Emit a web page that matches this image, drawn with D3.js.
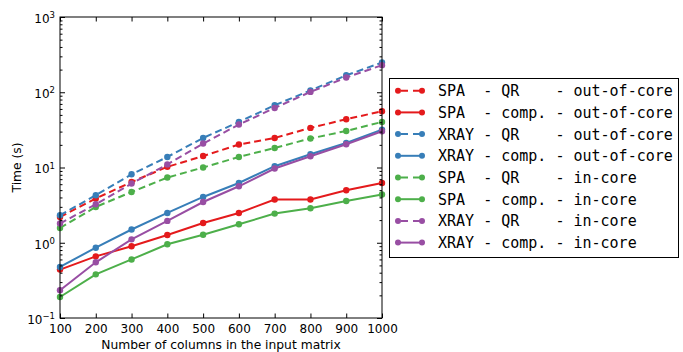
<!DOCTYPE html>
<html>
<head>
<meta charset="utf-8">
<script src="https://cdn.jsdelivr.net/npm/d3@7/dist/d3.min.js"></script>
<style>
  html, body { margin: 0; padding: 0; background: #fff; }
  svg { display: block; }
</style>
</head>
<body>
<svg id="chart" width="683" height="352"></svg>
<script>
// ---- Data ----
const columns = [100, 200, 300, 400, 500, 600, 700, 800, 900, 1000];
const spaQrOut    = [2.2, 3.87, 6.42, 10.2, 14.2, 20.2, 24.7, 33.6, 43.8, 56];
const spaCompOut  = [0.44, 0.66, 0.90, 1.27, 1.83, 2.49, 3.75, 3.75, 4.99, 6.23];
const xrayQrOut   = [2.32, 4.28, 8.13, 13.8, 24.7, 40.3, 67.2, 106, 168, 248];
const xrayCompOut = [0.477, 0.86, 1.50, 2.49, 4.06, 6.23, 10.4, 15.0, 21.2, 31.9];
const spaQrIn     = [1.57, 2.99, 4.73, 7.35, 10.0, 13.8, 18.2, 24.3, 30.6, 40.3];
const spaCompIn   = [0.19, 0.38, 0.60, 0.955, 1.28, 1.76, 2.44, 2.87, 3.59, 4.37];
const xrayQrIn    = [1.8, 3.25, 6.12, 11.0, 20.8, 37.2, 61.8, 101, 157, 229];
const xrayCompIn  = [0.234, 0.55, 1.11, 1.95, 3.48, 5.63, 9.7, 14.1, 20.4, 30.3];

const seriesLabels = [
  "SPA  - QR    - out-of-core",
  "SPA  - comp. - out-of-core",
  "XRAY - QR    - out-of-core",
  "XRAY - comp. - out-of-core",
  "SPA  - QR    - in-core",
  "SPA  - comp. - in-core",
  "XRAY - QR    - in-core",
  "XRAY - comp. - in-core"
];
const seriesValues = [spaQrOut, spaCompOut, xrayQrOut, xrayCompOut, spaQrIn, spaCompIn, xrayQrIn, xrayCompIn];
const seriesColors = ["#e41a1c", "#e41a1c", "#377eb8", "#377eb8", "#4daf4a", "#4daf4a", "#984ea3", "#984ea3"];
const seriesDashed = [true, false, true, false, true, false, true, false];

const yMajorTicks = [0.1, 1, 10, 100, 1000];
const yExponents = ["\u22121", "0", "1", "2", "3"];
const xLabel = "Number of columns in the input matrix";
const yLabel = "Time (s)";

// ---- Layout ----
const svg = d3.select("#chart");
const L = 60, R = 382, T = 17, B = 318;
const x = d3.scaleLinear().domain([100, 1000]).range([L, R]);
const y = d3.scaleLog().domain([0.1, 1000]).range([B, T]);

const series = seriesLabels.map((label, i) => ({
  label, color: seriesColors[i], dashed: seriesDashed[i],
  points: columns.map((c, j) => ({ c, v: seriesValues[i][j] }))
}));

const dash = "7,4";
const plot = svg.append("g");
const line = d3.line().x(d => x(d.c)).y(d => y(d.v));

series.forEach(s => {
  const g = plot.append("g");
  g.append("path").datum(s.points)
    .attr("d", line).attr("fill", "none")
    .attr("stroke", s.color).attr("stroke-width", 2)
    .attr("stroke-dasharray", s.dashed ? dash : null);
  g.selectAll("circle").data(s.points).join("circle")
    .attr("cx", d => x(d.c)).attr("cy", d => y(d.v)).attr("r", 3.2)
    .attr("fill", s.color);
});

// ---- Axes ----
const minorTicks = [];
for (let e = -1; e < 3; e++) for (let k = 2; k <= 9; k++) minorTicks.push(k * Math.pow(10, e));

const fontFam = "'DejaVu Sans', sans-serif";
function styleAxis(g) {
  g.select(".domain").remove();
  g.selectAll(".tick line").attr("stroke", "#000").attr("stroke-width", 1);
}

// bottom
const gx = svg.append("g").attr("transform", `translate(0,${B})`)
  .call(d3.axisBottom(x).tickValues(columns).tickSizeInner(-4.5).tickSizeOuter(0).tickPadding(6).tickFormat(d3.format("d")));
styleAxis(gx);
gx.selectAll(".tick text").attr("font-family", fontFam).attr("font-size", "12px").attr("fill", "#000");

// top
const gxt = svg.append("g").attr("transform", `translate(0,${T})`)
  .call(d3.axisTop(x).tickValues(columns).tickSizeInner(-4.5).tickSizeOuter(0).tickFormat(""));
styleAxis(gxt);

// left major
const gy = svg.append("g").attr("transform", `translate(${L},0)`)
  .call(d3.axisLeft(y).tickValues(yMajorTicks).tickSizeInner(-5).tickSizeOuter(0).tickPadding(6).tickFormat(""));
styleAxis(gy);
gy.selectAll(".tick").each(function(d, i) {
  const t = d3.select(this).append("text")
    .attr("x", -5).attr("y", 0).attr("dy", "0.45em")
    .attr("text-anchor", "end").attr("font-family", fontFam)
    .attr("font-size", "12px").attr("fill", "#000");
  t.append("tspan").text("10");
  t.append("tspan").attr("dy", "-0.55em").attr("font-size", "8.5px").text(yExponents[i]);
});
// left minor
const gym = svg.append("g").attr("transform", `translate(${L},0)`)
  .call(d3.axisLeft(y).tickValues(minorTicks).tickSizeInner(-2.5).tickSizeOuter(0).tickFormat(""));
styleAxis(gym);
// right major/minor
const gyr = svg.append("g").attr("transform", `translate(${R},0)`)
  .call(d3.axisRight(y).tickValues(yMajorTicks).tickSizeInner(-5).tickSizeOuter(0).tickFormat(""));
styleAxis(gyr);
const gyrm = svg.append("g").attr("transform", `translate(${R},0)`)
  .call(d3.axisRight(y).tickValues(minorTicks).tickSizeInner(-2.5).tickSizeOuter(0).tickFormat(""));
styleAxis(gyrm);

// frame
svg.append("rect").attr("x", L).attr("y", T).attr("width", R - L).attr("height", B - T)
  .attr("fill", "none").attr("stroke", "#000").attr("stroke-width", 1);

// labels
svg.append("text").attr("x", (L + R) / 2).attr("y", 349).attr("text-anchor", "middle")
  .attr("font-family", fontFam).attr("font-size", "12.3px").attr("fill", "#000").text(xLabel);
svg.append("text").attr("transform", `translate(21,${(T + B) / 2}) rotate(-90)`)
  .attr("text-anchor", "middle").attr("font-family", fontFam).attr("font-size", "12.3px")
  .attr("fill", "#000").text(yLabel);

// ---- Legend ----
const lg = svg.append("g");
lg.append("rect").attr("x", 389.5).attr("y", 78.5).attr("width", 289).attr("height", 179)
  .attr("fill", "#fff").attr("stroke", "#000").attr("stroke-width", 1);
series.forEach((s, i) => {
  const cy = 90.7 + i * 21.7;
  const row = lg.append("g");
  row.append("line").attr("x1", 398).attr("x2", 422).attr("y1", cy).attr("y2", cy)
    .attr("stroke", s.color).attr("stroke-width", 2)
    .attr("stroke-dasharray", s.dashed ? "7,5" : null)
    .attr("stroke-dashoffset", s.dashed ? -3 : null);
  row.selectAll("circle").data([398, 422]).join("circle")
    .attr("cx", d => d).attr("cy", cy).attr("r", 3).attr("fill", s.color);
  row.append("text").attr("x", 438).attr("y", cy).attr("dy", "0.36em")
    .attr("font-family", "'DejaVu Sans Mono', monospace").attr("font-size", "15px")
    .attr("fill", "#000").attr("xml:space", "preserve").style("white-space", "pre")
    .text(s.label);
});
</script>
</body>
</html>
